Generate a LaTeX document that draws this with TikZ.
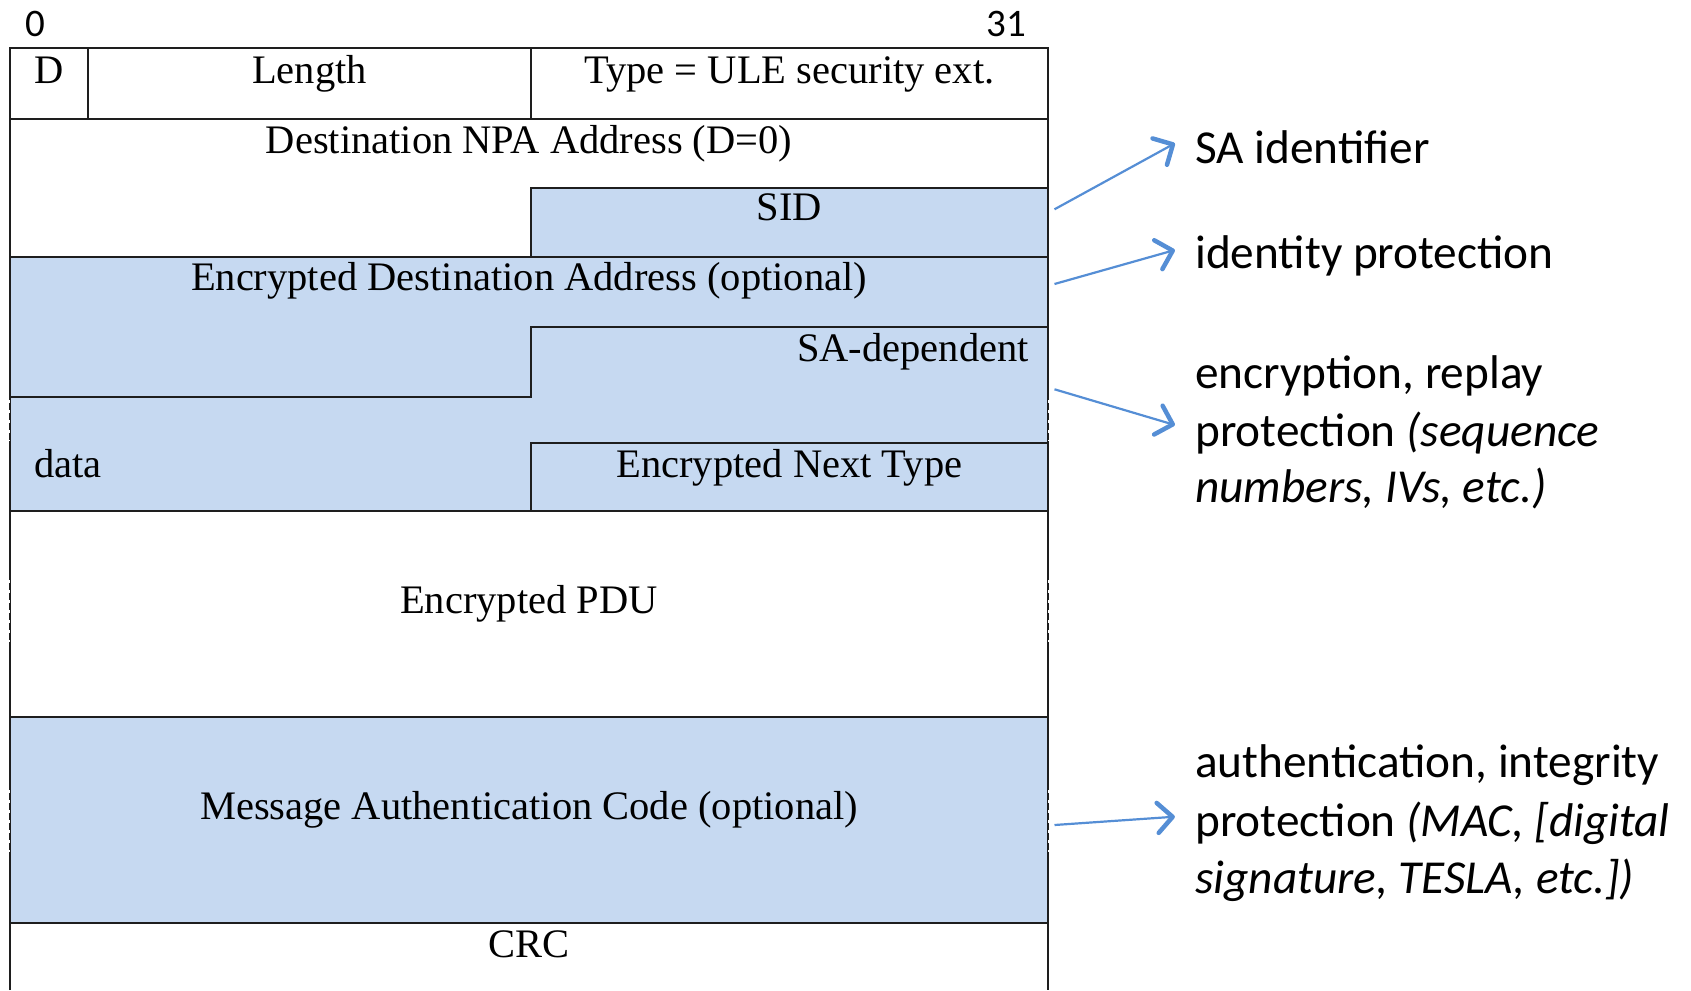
\documentclass[tikz,border=0pt]{standalone}
\usepackage{fontspec}
\setmainfont{Liberation Serif}
\newfontfamily\calib{Carlito}
\usetikzlibrary{arrows.meta}
\definecolor{fieldblue}{RGB}{198,217,241}
\definecolor{arrowblue}{RGB}{85,142,213}
\definecolor{rule}{RGB}{30,30,30}
\tikzset{
  grid/.style={draw=rule, line width=2pt},
  field/.style={inner sep=0pt, font=\fontsize{40.5}{48}\selectfont},
  note/.style={inner sep=0pt, anchor=base west, font=\calib\fontsize{47.3}{57.7}\selectfont},
  bitno/.style={inner sep=0pt, anchor=base, font=\calib\fontsize{39}{46}\selectfont},
  pointer/.style={draw=arrowblue, line width=2.2pt,
    -{Straight Barb[length=15pt,width=30pt,line width=4.5pt,round]}},
  gapmark/.style={draw=white, line width=1.1pt, dash pattern=on 3pt off 7pt}
}
\begin{document}
\begin{tikzpicture}[x=1pt,y=-1pt]
\useasboundingbox (0,0) rectangle (1691,990);

% shaded (protected) fields
\fill[fieldblue] (530.6,187.5) rectangle (1048.2,256.7);
\fill[fieldblue] (9.7,256.7) rectangle (1048.2,511.2);
\fill[fieldblue] (9.7,717.2) rectangle (1048.2,923.1);

% outer frame, open at the bottom
\draw[grid] (9.7,990) -- (9.7,48.5) -- (1048.2,48.5) -- (1048.2,990);
% full-width row separators
\draw[grid] (9.7,118.5) -- (1048.2,118.5);
\draw[grid] (9.7,256.7) -- (1048.2,256.7);
\draw[grid] (9.7,511.2) -- (1048.2,511.2);
\draw[grid] (9.7,717.2) -- (1048.2,717.2);
\draw[grid] (9.7,923.1) -- (1048.2,923.1);
% first row dividers
\draw[grid] (88.4,48.5) -- (88.4,118.5);
\draw[grid] (530.6,48.5) -- (530.6,118.5);
% SID field
\draw[grid] (530.6,256.7) -- (530.6,187.5) -- (1048.2,187.5);
% end of encrypted destination address / start of SA-dependent data
\draw[grid] (9.7,397) -- (530.6,397) -- (530.6,327) -- (1048.2,327);
% Encrypted Next Type field
\draw[grid] (530.6,511.2) -- (530.6,443) -- (1048.2,443);

% broken edges marking variable-length fields
\foreach \ya/\yb in {400/441, 580/642, 790/852}{
  \draw[gapmark] (9.2,\ya) -- (9.2,\yb);
  \draw[gapmark] (1048.7,\ya) -- (1048.7,\yb);
}

% bit numbering
\node[bitno] (b0) at (35.5,37) {0};
\node[bitno] (b31) at (1006,37) {31};

% field labels
\node[field, anchor=base] (fd) at (49,84) {D};
\node[field, anchor=base] (flen) at (309.5,84) {Length};
\node[field, anchor=base] (ftype) at (789.4,84) {Type = ULE security ext.};
\node[field, anchor=base] (fdst) at (529,153.5) {Destination NPA Address (D=0)};
\node[field, anchor=base] (fsid) at (789.4,220.5) {SID};
\node[field, anchor=base] (fenc) at (529,290.5) {Encrypted Destination Address (optional)};
\node[field, anchor=base east] (fsa) at (1029,361.5) {SA-dependent};
\node[field, anchor=base west] (fdata) at (34,477) {data};
\node[field, anchor=base] (fnt) at (789.4,477) {Encrypted Next Type};
\node[field, anchor=base] (fpdu) at (529,613.5) {Encrypted PDU};
\node[field, anchor=base] (fmac) at (529,819.5) {Message Authentication Code (optional)};
\node[field, anchor=base] (fcrc) at (529,957) {CRC};

% annotations
\node[note] (n1) at (1195,163.2) {SA identifier};
\node[note] (n2) at (1195,268.2) {identity protection};
\node[note] (n3a) at (1195,388.2) {encryption, replay};
\node[note] (n3b) at (1195,446) {protection \textit{(sequence}};
\node[note] (n3c) at (1195,502) {\textit{numbers, IVs, etc.)}};
\node[note] (n4a) at (1195,777.5) {authentication, integrity};
\node[note] (n4b) at (1195,836.5) {protection \textit{(MAC, [digital}};
\node[note] (n4c) at (1195,893.2) {\textit{signature, TESLA, etc.])}};

% pointers from the fields to their annotations
\coordinate (s1) at (1054.5,209.3);
\coordinate (t1) at (1174.9,143.3);
\coordinate (s2) at (1054.5,284);
\coordinate (t2) at (1174.9,250);
\coordinate (s3) at (1054.5,389.3);
\coordinate (t3) at (1174.9,425);
\coordinate (s4) at (1054.5,825);
\coordinate (t4) at (1174.9,816.7);
\draw[pointer] (s1) -- (t1);
\draw[pointer] (s2) -- (t2);
\draw[pointer] (s3) -- (t3);
\draw[pointer] (s4) -- (t4);
\end{tikzpicture}
\end{document}
